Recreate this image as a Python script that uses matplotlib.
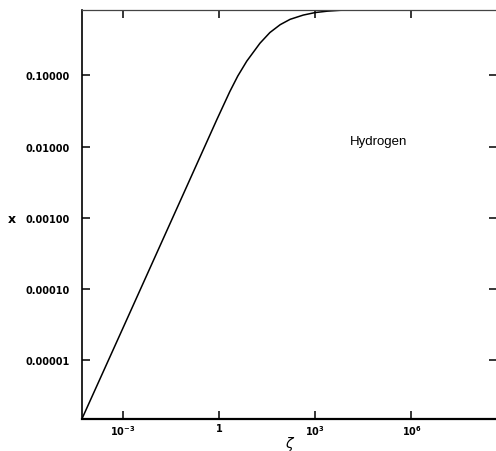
import numpy as np
import matplotlib
matplotlib.use("Agg")
import matplotlib.pyplot as plt
from matplotlib.ticker import FixedLocator, NullLocator

# values (log-log)
zeta = [5.6e-5, 1.0e-3, 0.1, 0.87, 2.19, 3.89, 7.41, 19.1, 38.9,
        81.3, 166.0, 427.0, 1000.0, 2400.0, 6030.0, 1.55e4, 1.0e6, 4.6e8]
x_frac = [1.55e-6, 2.75e-5, 2.75e-3, 0.024, 0.0589, 0.0977, 0.158, 0.282, 0.398,
          0.513, 0.610, 0.700, 0.759, 0.794, 0.817, 0.826, 0.826, 0.826]

xticks = [1e-3, 1.0, 1e3, 1e6]
xtick_labels = [r"$\mathregular{10^{-3}}$", "1", r"$\mathregular{10^{3}}$", r"$\mathregular{10^{6}}$"]
yticks = [1e-5, 1e-4, 1e-3, 1e-2, 1e-1]
ytick_labels = ["0.00001", "0.00010", "0.00100", "0.01000", "0.10000"]

plt.rcParams["font.family"] = ["DejaVu Sans"]

fig = plt.figure(figsize=(4.96, 4.52), dpi=100)
ax = fig.add_axes([0.166, 0.0708, 0.836, 0.905])

ax.plot(zeta, x_frac, color="black", lw=1.1)
ax.set_xscale("log")
ax.set_yscale("log")
ax.set_xlim(5.6e-5, 4.6e8)
ax.set_ylim(1.5e-6, 0.826)

ax.xaxis.set_major_locator(FixedLocator(xticks))
ax.xaxis.set_minor_locator(NullLocator())
ax.yaxis.set_major_locator(FixedLocator(yticks))
ax.yaxis.set_minor_locator(NullLocator())
ax.set_xticklabels(xtick_labels, fontsize=7, fontweight="bold")
ax.set_yticklabels(ytick_labels, fontsize=7, fontweight="bold")

ax.tick_params(axis="both", which="major", direction="in", length=5.5, width=1.1,
               top=True, right=True)
ax.tick_params(axis="x", pad=3)
ax.tick_params(axis="y", pad=9)

ax.spines["left"].set_linewidth(1.2)
ax.spines["bottom"].set_linewidth(1.6)
ax.spines["top"].set_linewidth(0.9)
ax.spines["top"].set_color("#444444")
ax.spines["right"].set_linewidth(1.2)

ax.set_xlabel(r"$\zeta$", fontsize=10)
ax.xaxis.set_label_coords(0.5, -0.036)
ax.set_ylabel("x", fontsize=9, fontweight="bold", rotation=0, va="center", ha="center")
ax.yaxis.set_label_coords(-0.171, 0.491)

ax.text(9.3e4, 1.2e-2, "Hydrogen", fontsize=9.5, ha="center", va="center",
        family="Liberation Sans")

fig.savefig("out.png", dpi=100)
